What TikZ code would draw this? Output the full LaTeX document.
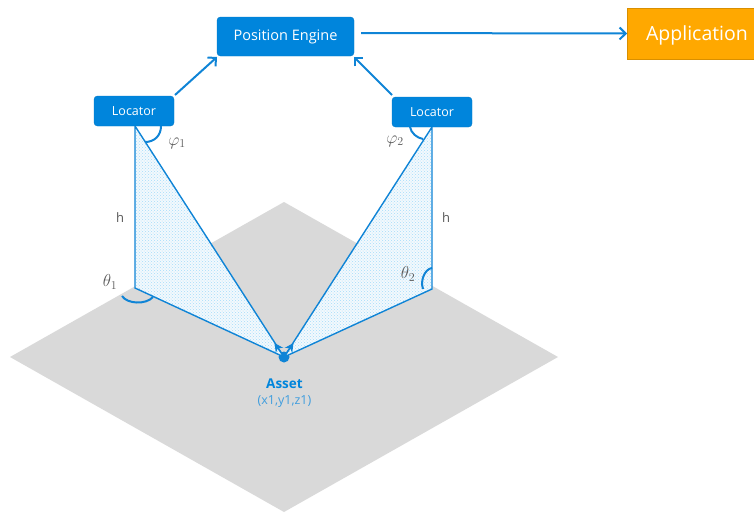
\documentclass[tikz,border=0pt]{standalone}
\usepackage{fontspec}
\setmainfont{Open Sans}
\usepackage{xcolor}
\usetikzlibrary{arrows,arrows.meta,calc,positioning,patterns}
\definecolor{MyBlue}{HTML}{0F84D6}
\definecolor{MyBox}{HTML}{0085DC}
\definecolor{MyGray}{HTML}{D9D9D9}
\definecolor{MyOrange}{HTML}{FFA800}
\definecolor{MyText}{HTML}{595959}
\definecolor{MyDots}{HTML}{A6DCFA}
\tikzset{
	BlueBox/.style={draw=MyBox!90!black, line width=0.4pt, fill=MyBox, rounded corners=3.5pt, text=white, inner sep=0pt, outer sep=0pt, anchor=center},
	LocatorBox/.style={BlueBox, minimum width=80pt, minimum height=30pt, text depth=0pt, font=\fontsize{12.5}{14}\selectfont},
	Link/.style={draw=MyBlue, line width=2pt, -{Straight Barb[length=6pt,width=12pt]}},
	Ray/.style={draw=MyBlue, line width=1.4pt, -{Stealth[length=9pt,width=9pt]}},
	Edge/.style={draw=MyBlue, line width=1.4pt},
	Wedge/.style={pattern=crosshatch dots, pattern color=MyDots},
	Angle/.style={draw=MyBlue, line width=2pt},
	Label/.style={text=MyText, inner sep=0pt},
	Symbol/.style={Label, font=\fontsize{17}{19}\selectfont}
}
\begin{document}
\begin{tikzpicture}[x=1pt, y=-1pt]
	\useasboundingbox (0,0) rectangle (754,512);
	% floor
	\fill[MyGray] (284,202) -- (558,357) -- (284,512) -- (10,357) -- cycle;
	% corners of the wedges
	\coordinate (top1) at (135,126);
	\coordinate (base1) at (135,288);
	\coordinate (top2) at (432,127);
	\coordinate (base2) at (432,289);
	\node[circle, fill=MyBlue, inner sep=0pt, minimum size=11pt] (asset) at (284,357) {};
	\coordinate (tip1) at (274.5,343);
	\coordinate (tip2) at (293.5,343);
	% wedges
	\fill[MyBlue!5] (top1) -- (base1) -- (asset.center) -- cycle;
	\fill[MyBlue!5] (top2) -- (base2) -- (asset.center) -- cycle;
	\fill[Wedge] (top1) -- (base1) -- (asset.center) -- cycle;
	\fill[Wedge] (top2) -- (base2) -- (asset.center) -- cycle;
	\draw[Edge] (top1) -- (base1) -- (asset.center) -- cycle;
	\draw[Edge] (top2) -- (base2) -- (asset.center) -- cycle;
	\draw[Ray] (asset.center) to (tip1);
	\draw[Ray] (asset.center) to (tip2);
	% boxes
	\node[BlueBox, minimum width=137pt, minimum height=39pt, font=\fontsize{14.5}{16}\selectfont] (engine) at (285.5,36.5) {Position Engine};
	\node[LocatorBox] (loc1) at (134,111) {Locator};
	\node[LocatorBox] (loc2) at (432,112) {Locator};
	\node[draw=MyOrange!85!black, line width=0.4pt, fill=MyOrange, text=white, minimum width=127pt, minimum height=51pt, inner sep=0pt, outer sep=0pt, text depth=0pt, font=\fontsize{19.5}{22}\selectfont] (app) at (690.5,33.5) {\hspace*{13pt}Application};
	% links
	\coordinate (out) at (361,33);
	\coordinate (from1) at (175,95);
	\coordinate (to1) at (217,57);
	\coordinate (from2) at (392,95);
	\coordinate (to2) at (354,57);
	\draw[Link] (out) to (app.west);
	\draw[Link] (from1) to (to1);
	\draw[Link] (from2) to (to2);
	% angles
	\draw[Angle] (161,126) .. controls (161,136) and (154,142) .. (145,142);
	\draw[Angle] (410,127) .. controls (411,133) and (417,138) .. (423,139);
	\draw[Angle] (122,296) .. controls (127,304) and (146,305) .. (153,297);
	\draw[Angle] (432,268) .. controls (425,269) and (420,280) .. (423,289);
	% labels
	\node[Symbol] (phi1) at (177,143) {$\varphi_1$};
	\node[Symbol] (phi2) at (395,141) {$\varphi_2$};
	\node[Symbol] (theta1) at (110,282) {$\theta_1$};
	\node[Symbol] (theta2) at (408,274) {$\theta_2$};
	\node[Label, font=\fontsize{13}{15}\selectfont] (h1) at (120,218) {h};
	\node[Label, font=\fontsize{13}{15}\selectfont] (h2) at (446,218) {h};
	\node[text=MyBox, inner sep=0pt, font=\fontsize{13.5}{15}\selectfont\bfseries] (name) at (284.5,383.5) {Asset};
	\node[text=MyBlue!80, inner sep=0pt, font=\fontsize{12.5}{14}\selectfont] (pos) at (284.5,402) {(x1,y1,z1)};
\end{tikzpicture}
\end{document}
